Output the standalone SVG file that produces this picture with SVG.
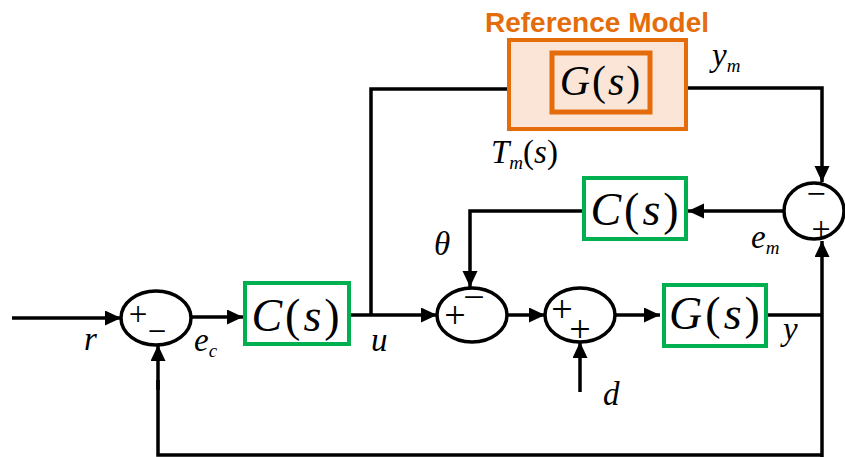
<svg xmlns="http://www.w3.org/2000/svg" width="845" height="457" viewBox="0 0 845 457">
<defs>
<marker id="ah" markerUnits="userSpaceOnUse" markerWidth="18" markerHeight="16" refX="16" refY="7.5" orient="auto">
<path d="M0,0 L16,7.5 L0,15 Z" fill="#000"/>
</marker>
<style>
.ln{fill:none;stroke:#000;stroke-width:3.5}
.arr{fill:none;stroke:#000;stroke-width:3.5;marker-end:url(#ah)}
.sum{fill:#fff;stroke:#000;stroke-width:3.5}
.gbox{fill:#fff;stroke:#00B050;stroke-width:4}
.it{font-style:italic}
</style>
</defs>
<rect width="845" height="457" fill="#fff"/>
<g id="connectors">
<line class="arr" x1="12" y1="318" x2="121" y2="318"/>
<line class="arr" x1="192" y1="317" x2="243" y2="317"/>
<line class="arr" x1="350" y1="315" x2="437" y2="315"/>
<polyline class="ln" points="371,315 371,89 508,89"/>
<polyline class="arr" points="687,88 822,88 822,182"/>
<line class="arr" x1="784" y1="211" x2="688" y2="211"/>
<polyline class="arr" points="582,211 470,211 470,287"/>
<line class="arr" x1="508" y1="315" x2="545" y2="315"/>
<line class="arr" x1="615" y1="315" x2="660" y2="315"/>
<line class="ln" x1="768" y1="315" x2="822" y2="315"/>
<polyline class="ln" points="822,455 158,455 158,380"/>
<line class="arr" x1="822" y1="457" x2="822" y2="241"/>
<line class="arr" x1="158" y1="390" x2="158" y2="345"/>
<line class="arr" x1="580" y1="392" x2="580" y2="342"/>
</g>
<g id="ref-model">
<text x="597" y="32" font-family="Liberation Sans, Arial, sans-serif" font-weight="bold" font-size="28" fill="#E46C0A" text-anchor="middle">Reference Model</text>
<rect x="509" y="40" width="177" height="89" fill="#FBE5D6" stroke="#E46C0A" stroke-width="4"/>
<rect x="552" y="53" width="98" height="59" fill="#FBE5D6" stroke="#E46C0A" stroke-width="5"/>
<text font-family="Liberation Serif, serif" x="601" y="95" font-size="42" text-anchor="middle" letter-spacing="2"><tspan class="it">G</tspan>(<tspan class="it">s</tspan>)</text>
</g>
<g id="sum1" font-family="Liberation Serif, serif" font-size="33" text-anchor="middle">
<ellipse class="sum" cx="156" cy="318" rx="35" ry="27"/>
<text x="138" y="325">+</text>
<text x="157" y="342">−</text>
</g>
<g id="ctrl1" font-family="Liberation Serif, serif">
<rect class="gbox" x="245" y="283" width="104" height="61"/>
<text x="297" y="331" font-size="46" text-anchor="middle" letter-spacing="3"><tspan class="it">C</tspan>(<tspan class="it">s</tspan>)</text>
</g>
<g id="sum2" font-family="Liberation Serif, serif" font-size="38" text-anchor="middle">
<ellipse class="sum" cx="472" cy="315" rx="35" ry="27"/>
<text x="455" y="328">+</text>
<text x="474" y="310">−</text>
</g>
<g id="sum3" font-family="Liberation Serif, serif" font-size="38" text-anchor="middle">
<ellipse class="sum" cx="580" cy="315" rx="35" ry="27"/>
<text x="562" y="322">+</text>
<text x="580" y="342">+</text>
</g>
<g id="plant" font-family="Liberation Serif, serif">
<rect class="gbox" x="664" y="285" width="102" height="61"/>
<text x="716" y="329" font-size="46" text-anchor="middle" letter-spacing="3"><tspan class="it">G</tspan>(<tspan class="it">s</tspan>)</text>
</g>
<g id="ctrl2" font-family="Liberation Serif, serif">
<rect class="gbox" x="584" y="178" width="102" height="61"/>
<text x="636" y="225" font-size="46" text-anchor="middle" letter-spacing="3"><tspan class="it">C</tspan>(<tspan class="it">s</tspan>)</text>
</g>
<g id="sum4" font-family="Liberation Serif, serif" font-size="34" text-anchor="middle">
<ellipse class="sum" cx="814" cy="211" rx="30" ry="28"/>
<text x="816" y="205">−</text>
<text x="821" y="240">+</text>
</g>
<g id="labels" font-family="Liberation Serif, serif" font-style="italic" font-size="33">
<text x="84" y="350">r</text>
<text x="194" y="351">e<tspan font-size="19" dy="6">c</tspan></text>
<text x="371" y="351">u</text>
<text x="783" y="340">y</text>
<text x="603" y="405">d</text>
<text x="434" y="255">θ</text>
<text x="751" y="248">e<tspan font-size="19" dy="6">m</tspan></text>
<text x="712" y="66">y<tspan font-size="19" dy="6">m</tspan></text>
<text x="491" y="163">T<tspan font-size="19" dy="6">m</tspan><tspan dy="-6" font-style="normal">(</tspan>s<tspan font-style="normal">)</tspan></text>
</g>
</svg>
